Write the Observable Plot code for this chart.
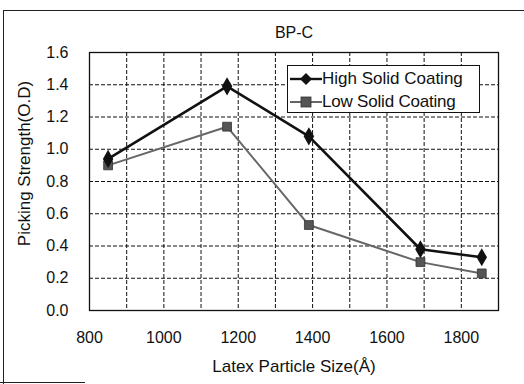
<!DOCTYPE html>
<html><head><meta charset="utf-8">
<script src="https://cdn.jsdelivr.net/npm/d3@7"></script>
<script src="https://cdn.jsdelivr.net/npm/@observablehq/plot@0.6"></script>
<style>
body{margin:0;background:#fff;font-family:"Liberation Sans",Arial,sans-serif;}
#wrap{position:relative;width:524px;height:384px;overflow:hidden;}
.ln{position:absolute;background:#222;}
#legend{position:absolute;left:287px;top:65px;width:193px;height:48px;border:1px solid #111;background:#fff;font-size:17px;color:#111;box-sizing:border-box;}
#legend div{display:flex;align-items:center;height:22px;margin-top:1px;}
#legend svg{margin-left:2px;margin-right:0px;}
</style></head>
<body><div id="wrap"></div>
<script>
const title = "BP-C";
const xLabel = "Latex Particle Size(Å)";
const yLabel = "Picking Strength(O.D)";
const seriesNames = ["High Solid Coating", "Low Solid Coating"];
const sizes = [850, 1170, 1390, 1690, 1855];
const highValues = [0.94, 1.39, 1.08, 0.38, 0.33];
const lowValues = [0.90, 1.14, 0.53, 0.30, 0.23];
const xTicks = [800, 1000, 1200, 1400, 1600, 1800];
const yTicks = [0.0, 0.2, 0.4, 0.6, 0.8, 1.0, 1.2, 1.4, 1.6];
const xGrid = [900, 1000, 1100, 1200, 1300, 1400, 1500, 1600, 1700, 1800];

const high = sizes.map((x, i) => ({x, y: highValues[i]}));
const low = sizes.map((x, i) => ({x, y: lowValues[i]}));

const chart = Plot.plot({
  width: 524, height: 384,
  marginLeft: 89, marginTop: 52, marginRight: 26, marginBottom: 74,
  style: {fontFamily: "Liberation Sans, Arial, sans-serif", fontSize: "16px", color: "#111", background: "transparent"},
  x: {domain: [800, 1900]},
  y: {domain: [0, 1.6]},
  marks: [
    Plot.ruleX(xGrid, {stroke: "#111", strokeWidth: 1, strokeDasharray: "4,2"}),
    Plot.ruleY(yTicks.slice(1, -1), {stroke: "#111", strokeWidth: 1, strokeDasharray: "4,2"}),
    Plot.frame({stroke: "#111", strokeWidth: 1.3}),
    Plot.axisX({ticks: xTicks, tickSize: 0, tickPadding: 21, tickFormat: d => String(d), label: null, fontSize: 16}),
    Plot.axisY({ticks: yTicks, tickSize: 0, tickPadding: 21, tickFormat: d => d.toFixed(1), label: null, fontSize: 16}),
    Plot.line(low, {x: "x", y: "y", stroke: "#666", strokeWidth: 2}),
    Plot.dot(low, {x: "x", y: "y", symbol: "square", r: 5, fill: "#555", stroke: "#333", strokeWidth: 0.8}),
    Plot.line(high, {x: "x", y: "y", stroke: "#111", strokeWidth: 2.6}),
    Plot.dot(high, {x: "x", y: "y", symbol: "diamond", r: 5.5, fill: "#111"}),
    Plot.text([title], {frameAnchor: "top", dy: -26, fontSize: 16, fill: "#111", style: "letter-spacing:1px"}),
    Plot.text([xLabel], {frameAnchor: "bottom", dy: 61, fontSize: 17, fill: "#111"}),
    Plot.text([yLabel], {frameAnchor: "left", dx: -65, dy: -18, rotate: -90, textAnchor: "middle", fontSize: 17, fill: "#111"})
  ]
});
const wrap = document.getElementById("wrap");
wrap.appendChild(chart);
chart.style.position = "absolute"; chart.style.left = "0"; chart.style.top = "0";

function addLine(l, t, w, h){const d=document.createElement("div");d.className="ln";Object.assign(d.style,{left:l+"px",top:t+"px",width:w+"px",height:h+"px"});wrap.appendChild(d);}
addLine(3, 10, 521, 1);
addLine(3, 10, 1, 374);
addLine(0, 382, 85, 1);

const lg = document.createElement("div"); lg.id = "legend";
lg.innerHTML = `<div style="margin-top:2px"><svg width="32" height="14"><line x1="0" y1="7" x2="32" y2="7" stroke="#111" stroke-width="2.4"/><path d="M16,1 L22,7 L16,13 L10,7Z" fill="#111"/></svg><span>${seriesNames[0]}</span></div>
<div><svg width="32" height="14"><line x1="0" y1="7" x2="32" y2="7" stroke="#666" stroke-width="2"/><rect x="11" y="2" width="10" height="10" fill="#555" stroke="#333" stroke-width="0.8"/></svg><span style="letter-spacing:-0.2px">${seriesNames[1]}</span></div>`;
wrap.appendChild(lg);
</script>
</body></html>
